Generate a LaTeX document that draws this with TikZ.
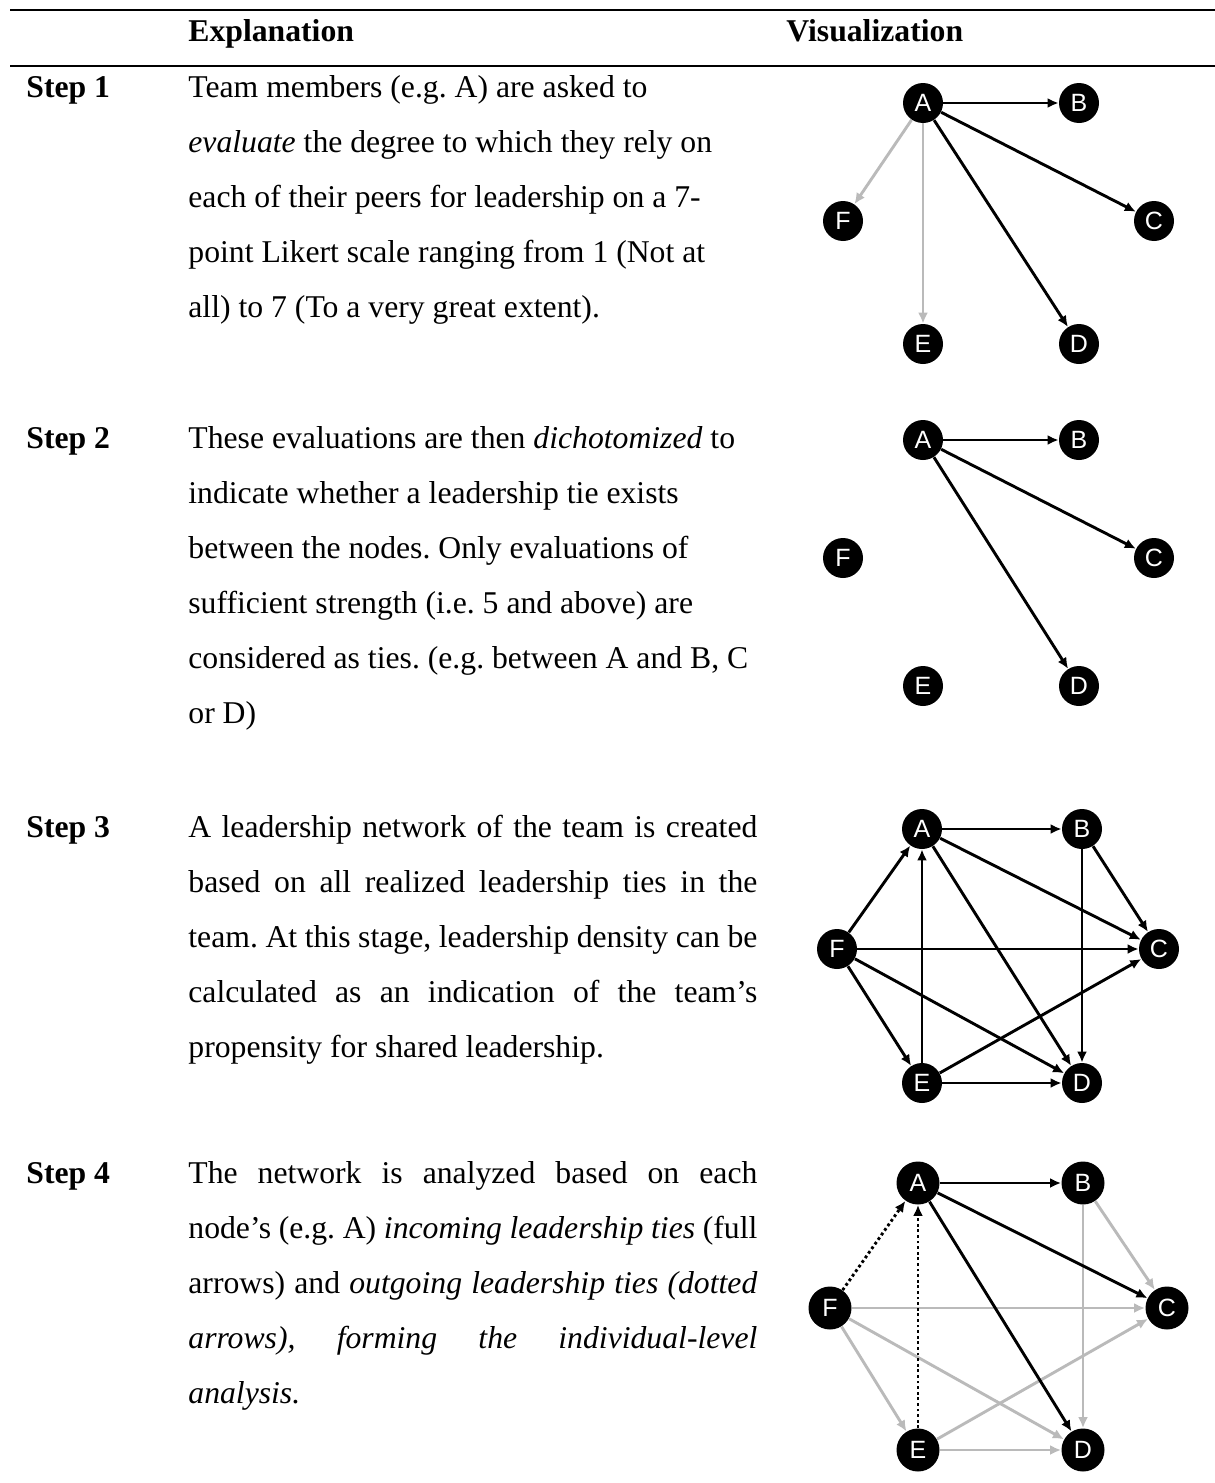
\documentclass[tikz,border=0pt]{standalone}
\usepackage{fontspec}
\setmainfont{Liberation Serif}
\newfontfamily\nodefont{Liberation Sans}
\usetikzlibrary{arrows.meta}
\newcommand{\jline}[1]{\makebox[284.5pt][s]{#1}}

\begin{document}
\frenchspacing
\begin{tikzpicture}[
    x=0.5pt, y=-0.5pt,
    body/.style={anchor=base west, inner sep=0pt, font=\fontsize{15.85pt}{27.5pt}\selectfont},
    head/.style={body, font=\fontsize{15.85pt}{27.5pt}\selectfont\bfseries},
    member/.style={circle, fill=black, text=white, inner sep=0pt, minimum size=20pt,
      font=\nodefont\fontsize{12.5pt}{12.5pt}\selectfont},
    tie/.style={-{Latex[length=5.5pt,width=5pt]}, line width=1.45pt},
    weak/.style={tie, draw=black!27},
    dots/.style={tie, dash pattern=on 1.4pt off 1.4pt}
  ]
  \useasboundingbox (0,0) rectangle (1215,1483);

  % table rules and header
  \draw[line width=1pt] (10,10) -- (1215,10);
  \draw[line width=1pt] (10,66) -- (1215,66);
  \node[head] (expl) at (188,41) {Explanation};
  \node[head] (visu) at (786,41) {Visualization};

  % step labels
  \node[head] (step1) at (26,97) {Step 1};
  \node[head] (step2) at (26,448) {Step 2};
  \node[head] (step3) at (26,837) {Step 3};
  \node[head] (step4) at (26,1183) {Step 4};

  % explanations
  \foreach \txt [count=\i from 0] in {
      Team members (e.g. A) are asked to,
      \textit{evaluate} the degree to which they rely on,
      each of their peers for leadership on a 7-,
      point Likert scale ranging from 1 (Not at,
      all) to 7 (To a very great extent).}
    \node[body] (s1l\i) at (188,{97+55*\i}) {\txt};
  \foreach \txt [count=\i from 0] in {
      These evaluations are then \textit{dichotomized} to,
      indicate whether a leadership tie exists,
      between the nodes. Only evaluations of,
      sufficient strength (i.e. 5 and above) are,
      {considered as ties. (e.g. between A and B, C},
      or D)}
    \node[body] (s2l\i) at (188,{448+55*\i}) {\txt};
  \foreach \txt [count=\i from 0] in {
      {\jline{A leadership network of the team is created}},
      {\jline{based on all realized leadership ties in the}},
      {\jline{team. At this stage, leadership density can be}},
      {\jline{calculated as an indication of the team’s}},
      propensity for shared leadership.}
    \node[body] (s3l\i) at (188,{837+55*\i}) {\txt};
  \foreach \txt [count=\i from 0] in {
      {\jline{The network is analyzed based on each}},
      {\jline{node’s (e.g. A) \textit{incoming leadership ties} (full}},
      {\jline{arrows) and \textit{outgoing leadership ties (dotted}}},
      {\jline{\textit{arrows), forming the individual-level}}},
      \textit{analysis.}}
    \node[body] (s4l\i) at (188,{1183+55*\i}) {\txt};

  % step 1 graph
  \foreach \n/\l/\x/\y in {a/A/923/103, b/B/1079/103, c/C/1154/221,
      d/D/1079/344, e/E/923/344, f/F/843/221}
    \node[member] (\n1) at (\x,\y) {\l};
  \foreach \s/\t in {a/b, a/c, a/d}
    \draw[tie] (\s1) -- (\t1);
  \foreach \s/\t in {a/e, a/f}
    \draw[weak] (\s1) -- (\t1);

  % step 2 graph
  \foreach \n/\l/\x/\y in {a/A/923/440, b/B/1079/440, c/C/1154/558,
      d/D/1079/686, e/E/923/686, f/F/843/558}
    \node[member] (\n2) at (\x,\y) {\l};
  \foreach \s/\t in {a/b, a/c, a/d}
    \draw[tie] (\s2) -- (\t2);

  % step 3 graph
  \foreach \n/\l/\x/\y in {a/A/922/829, b/B/1082/829, c/C/1159/949,
      d/D/1082/1083, e/E/922/1083, f/F/837/949}
    \node[member] (\n3) at (\x,\y) {\l};
  \foreach \s/\t in {a/b, a/c, a/d, b/c, b/d, f/a, f/c, f/e, f/d, e/a, e/c, e/d}
    \draw[tie] (\s3) -- (\t3);

  % step 4 graph
  \foreach \n/\l/\x/\y in {a/A/918/1183, b/B/1083/1183, c/C/1167/1308,
      d/D/1083/1450, e/E/918/1450, f/F/830/1308}
    \node[member, minimum size=21.5pt] (\n4) at (\x,\y) {\l};
  \foreach \s/\t in {b/c, b/d, f/c, f/e, f/d, e/c, e/d}
    \draw[weak] (\s4) -- (\t4);
  \foreach \s/\t in {a/b, a/c, a/d}
    \draw[tie] (\s4) -- (\t4);
  \foreach \s/\t in {f/a, e/a}
    \draw[dots] (\s4) -- (\t4);
\end{tikzpicture}
\end{document}
